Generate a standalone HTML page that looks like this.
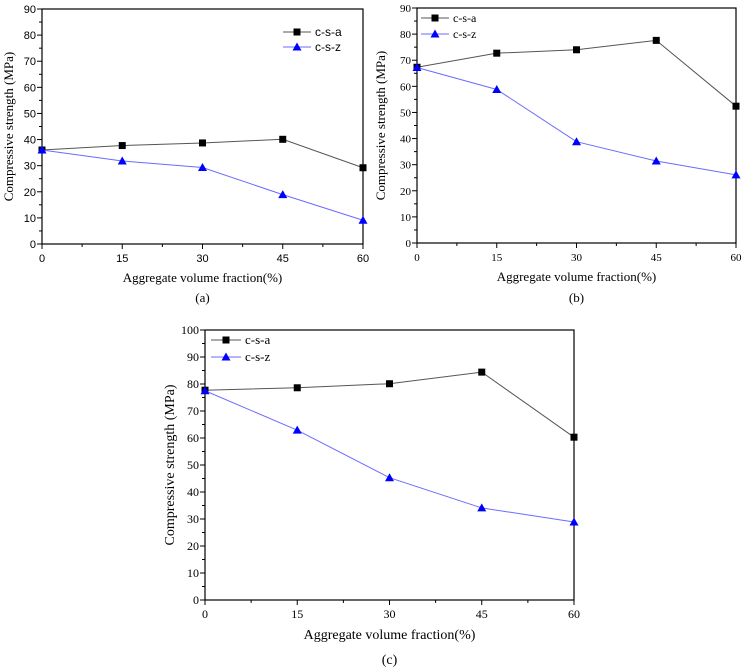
<!DOCTYPE html>
<html><head><meta charset="utf-8"><style>
html,body{margin:0;padding:0;background:#fff;}
svg{display:block;}
</style></head><body>
<svg id="s" width="744" height="668" xmlns="http://www.w3.org/2000/svg"></svg>
<script>
const categories=[0,15,30,45,60];
const aA=[36,37.7,38.7,40.1,29.2];
const aZ=[36,31.8,29.3,18.9,9.1];
const bA=[67.3,72.7,74,77.6,52.4];
const bZ=[67.2,58.8,38.8,31.4,26.1];
const cA=[77.7,78.6,80.1,84.4,60.3];
const cZ=[77.5,62.9,45.3,34.1,28.9];
const yTicksA=[0,10,20,30,40,50,60,70,80,90];
const yTicksC=[0,10,20,30,40,50,60,70,80,90,100];

const NS="http://www.w3.org/2000/svg";
const svg=document.getElementById('s');
function mk(t,a,p){const e=document.createElementNS(NS,t);for(const k in a)e.setAttribute(k,a[k]);(p||svg).appendChild(e);return e;}

function chart(o){
  const g=mk('g',{});
  
  
  const xs=v=>o.x0+(v-0)/(60-0)*(o.x1-o.x0);
  const ys=v=>o.y0-(v/o.ymax)*(o.y0-o.y1);
  const fam=o.sans?'"Liberation Sans",sans-serif':'"Liberation Serif",serif';
  const fr=mk('rect',{x:o.x0,y:o.y1,width:o.x1-o.x0,height:o.y0-o.y1,fill:'none',stroke:'#000','stroke-width':1.2},g);
  
  
  for(let v=0;v<=o.ymax;v+=5){
    const y=ys(v);const major=v%10===0;
    mk('line',{x1:o.x0-(major?5:3),x2:o.x0,y1:y,y2:y,stroke:'#000','stroke-width':1},g);
  }
  o.yticks.forEach(v=>{
    const t=mk('text',{x:o.x0-6,y:ys(v)+4,'text-anchor':'end','font-size':o.fs,'font-family':fam},g);
    t.textContent=v;
    
    
  });
  for(let v=0;v<=60;v+=7.5){
    const x=xs(v);const major=v%15===0;
    mk('line',{x1:x,x2:x,y1:o.y0,y2:o.y0+(major?5:3),stroke:'#000','stroke-width':1},g);
  }
  categories.forEach(v=>{
    const t=mk('text',{x:xs(v),y:o.y0+18,'text-anchor':'middle','font-size':o.fs,'font-family':fam},g);
    t.textContent=v;
    
    
  });
  const xt=mk('text',{x:(o.x0+o.x1)/2,y:o.xty,'text-anchor':'middle','font-size':o.tfs,'font-family':'"Liberation Serif",serif'},g);
  xt.textContent='Aggregate volume fraction(%)';
  
  
  const yc=(o.y0+o.y1)/2;
  const yt=mk('text',{x:o.ytx,y:yc,'text-anchor':'middle','font-size':o.tfs,'font-family':'"Liberation Serif",serif',transform:`rotate(-90 ${o.ytx} ${yc})`},g);
  yt.textContent='Compressive strength (MPa)';
  
  
  const cap=mk('text',{x:(o.x0+o.x1)/2,y:o.capy,'text-anchor':'middle','font-size':o.tfs,'font-family':'"Liberation Serif",serif'},g);
  cap.textContent=o.cap;
  
  
  function sq(x,y,p){mk('rect',{x:x-3.5,y:y-3.5,width:7,height:7,fill:'#000'},p);}
  function tri(x,y,p){mk('polygon',{points:`${x},${y-4.5} ${x-4.5},${y+3.5} ${x+4.5},${y+3.5}`,fill:'#0000ff'},p);}
  [[o.sa,'#555',sq,'series-c-s-a'],[o.sz,'#6b6bff',tri,'series-c-s-z']].forEach(([d,c,m,n])=>{
    const sg=mk('g',{},g);
    
    
    mk('polyline',{points:d.map((v,i)=>xs(categories[i])+','+ys(v)).join(' '),fill:'none',stroke:c,'stroke-width':1},sg);
    d.forEach((v,i)=>m(xs(categories[i]),ys(v),sg));
  });
  const L=o.leg;
  [['c-s-a','#555',sq,L.y],['c-s-z','#6b6bff',tri,L.y+L.dy]].forEach(([lab,c,m,y])=>{
    const lg=mk('g',{},g);
    
    
    mk('line',{x1:L.x,x2:L.x+L.w,y1:y,y2:y,stroke:c,'stroke-width':1},lg);
    m(L.x+L.w/2,y,lg);
    const t=mk('text',{x:L.x+L.w+4,y:y+4,'font-size':o.fs+1,'font-family':fam},lg);
    t.textContent=lab;
  });
}
chart({name:'chart-a',x0:42,x1:363,y0:244,y1:9,ymax:90,yticks:yTicksA,sa:aA,sz:aZ,sans:true,fs:11,tfs:13,xty:282,ytx:13,capy:302,cap:'(a)',leg:{x:283,w:28,y:32,dy:15}});
chart({name:'chart-b',x0:417,x1:736,y0:243,y1:8,ymax:90,yticks:yTicksA,sa:bA,sz:bZ,sans:false,fs:11,tfs:13,xty:281,ytx:385,capy:302,cap:'(b)',leg:{x:421,w:28,y:18,dy:16}});
chart({name:'chart-c',x0:205,x1:574,y0:600,y1:330,ymax:100,yticks:yTicksC,sa:cA,sz:cZ,sans:false,fs:12,tfs:14,xty:639,ytx:174,capy:664,cap:'(c)',leg:{x:211,w:30,y:340,dy:17}});
</script>
</body></html>
